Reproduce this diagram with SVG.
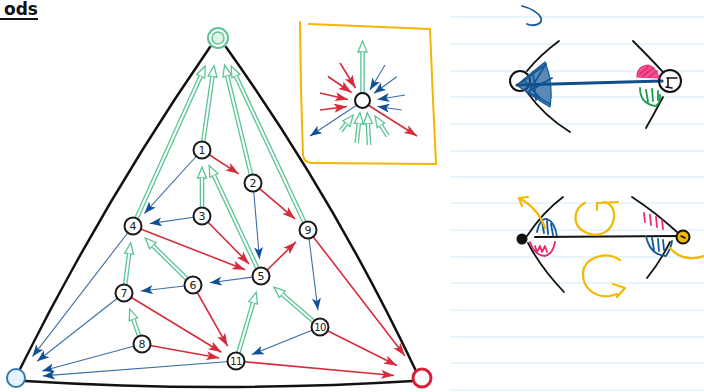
<svg xmlns="http://www.w3.org/2000/svg" width="704" height="392" viewBox="0 0 704 392">
<defs>
<style>
.er{stroke:#d62c3c;stroke-width:1.6;fill:none;marker-end:url(#hr)}
.eb{stroke:#3d6ea6;stroke-width:1.1;fill:none;marker-end:url(#hb)}
.go{stroke:#5cc593;stroke-width:4.6;fill:none;marker-end:url(#hg)}
.gi{stroke:#ffffff;stroke-width:2;fill:none}
.node circle{fill:#fff;stroke:#1a1a1a;stroke-width:2}
.node text{font-family:"DejaVu Sans",sans-serif;font-size:11px;fill:#222;text-anchor:middle}
.tri{fill:none;stroke:#111;stroke-width:2.5;stroke-linecap:round}
.nb{stroke:#d3e9f7;stroke-width:1.2}
.sk{fill:none;stroke-linecap:round;stroke-linejoin:round}
.k{stroke:#111;stroke-width:1.8}
.bl{stroke:#14589a;stroke-width:1.8}
.pk{stroke:#ec2a74;stroke-width:1.8}
.gr{stroke:#1f9a4b;stroke-width:1.8}
.or{stroke:#f5b800;stroke-width:2.2}
</style>
<marker id="hr" markerUnits="userSpaceOnUse" viewBox="0 0 14 10" markerWidth="14" markerHeight="10" refX="13" refY="4.5" orient="auto"><path d="M0,0 L13,4.5 L0,9 L3,4.5 Z" fill="#d62c3c"/></marker>
<marker id="hb" markerUnits="userSpaceOnUse" viewBox="0 0 14 10" markerWidth="14" markerHeight="10" refX="12" refY="4.5" orient="auto"><path d="M0,0 L12,4.5 L0,9 L3,4.5 Z" fill="#0e4f96"/></marker>
<marker id="hg" markerUnits="userSpaceOnUse" viewBox="0 0 16 12" markerWidth="16" markerHeight="12" refX="1" refY="5.5" orient="auto" overflow="visible"><path d="M1,1 L12,5.5 L1,10 Z" fill="#fff" stroke="#5cc593" stroke-width="1.3"/></marker>
</defs>
<rect x="0" y="0" width="704" height="392" fill="#fff"/>

<g id="notebook">
<line class="nb" x1="450" y1="17" x2="704" y2="17"/>
<line class="nb" x1="450" y1="44" x2="704" y2="44"/>
<line class="nb" x1="450" y1="71" x2="704" y2="71"/>
<line class="nb" x1="450" y1="97" x2="704" y2="97"/>
<line class="nb" x1="450" y1="124" x2="704" y2="124"/>
<line class="nb" x1="450" y1="151" x2="704" y2="151"/>
<line class="nb" x1="450" y1="177" x2="704" y2="177"/>
<line class="nb" x1="450" y1="203" x2="704" y2="203"/>
<line class="nb" x1="450" y1="230" x2="704" y2="230"/>
<line class="nb" x1="450" y1="257" x2="704" y2="257"/>
<line class="nb" x1="450" y1="283" x2="704" y2="283"/>
<line class="nb" x1="450" y1="310" x2="704" y2="310"/>
<line class="nb" x1="450" y1="337" x2="704" y2="337"/>
<line class="nb" x1="450" y1="363" x2="704" y2="363"/>
<line class="nb" x1="450" y1="390" x2="704" y2="390"/>
</g>

<g id="title">
<text x="4" y="15" font-family="DejaVu Sans, sans-serif" font-size="17" font-weight="bold" fill="#111">ods</text>
<line x1="0" y1="19" x2="38" y2="19" stroke="#111" stroke-width="2"/>
</g>

<g id="triangle">
<path class="tri" d="M210,47 Q103,202 19,371"/>
<path class="tri" d="M226,47 Q335,200 416,371"/>
<path class="tri" d="M25,381 Q219,393 413,381"/>
</g>

<g id="connectors">
<line class="er" x1="202" y1="150" x2="238.7" y2="173.8"/>
<line class="er" x1="253" y1="183" x2="295.1" y2="218.9"/>
<line class="er" x1="202" y1="216" x2="249.1" y2="263.9"/>
<line class="er" x1="133" y1="226" x2="245.2" y2="269.8"/>
<line class="er" x1="261" y1="276" x2="295.9" y2="241.9"/>
<line class="er" x1="193" y1="285" x2="227.6" y2="346.2"/>
<line class="er" x1="124" y1="293" x2="221.5" y2="352.2"/>
<line class="er" x1="142" y1="344" x2="219.3" y2="358"/>
<line class="er" x1="308" y1="230" x2="404.9" y2="355.8"/>
<line class="er" x1="320" y1="327" x2="396.9" y2="365.5"/>
<line class="er" x1="236" y1="361" x2="394.1" y2="375.5"/>

<line class="eb" x1="202" y1="150" x2="144.4" y2="213.4"/>
<line class="eb" x1="202" y1="216" x2="149.8" y2="223.6"/>
<line class="eb" x1="253" y1="183" x2="259.5" y2="259.1"/>
<line class="eb" x1="261" y1="276" x2="209.8" y2="282.8"/>
<line class="eb" x1="193" y1="285" x2="140.9" y2="291"/>
<line class="eb" x1="308" y1="230" x2="317.9" y2="310.1"/>
<line class="eb" x1="320" y1="327" x2="251.8" y2="354.6"/>
<line class="eb" x1="133" y1="226" x2="32.5" y2="356.6"/>
<line class="eb" x1="124" y1="293" x2="37.2" y2="361.3"/>
<line class="eb" x1="142" y1="344" x2="42.1" y2="371"/>
<line class="eb" x1="236" y1="361" x2="42.9" y2="375.9"/>

<line class="go" x1="133" y1="226" x2="200.7" y2="76.2"/><line class="gi" x1="133" y1="226" x2="200.7" y2="76.2"/>
<line class="go" x1="202" y1="150" x2="212.5" y2="76.6"/><line class="gi" x1="202" y1="150" x2="212.5" y2="76.6"/>
<line class="go" x1="253" y1="183" x2="227.2" y2="75.9"/><line class="gi" x1="253" y1="183" x2="227.2" y2="75.9"/>
<line class="go" x1="308" y1="230" x2="235.9" y2="76.1"/><line class="gi" x1="308" y1="230" x2="235.9" y2="76.1"/>
<line class="go" x1="202" y1="216" x2="202" y2="178"/><line class="gi" x1="202" y1="216" x2="202" y2="178"/>
<line class="go" x1="261" y1="276" x2="213.9" y2="175.4"/><line class="gi" x1="261" y1="276" x2="213.9" y2="175.4"/>
<line class="go" x1="193" y1="285" x2="152.9" y2="245.6"/><line class="gi" x1="193" y1="285" x2="152.9" y2="245.6"/>
<line class="go" x1="124" y1="293" x2="129.2" y2="253.7"/><line class="gi" x1="124" y1="293" x2="129.2" y2="253.7"/>
<line class="go" x1="142" y1="344" x2="133.4" y2="319.4"/><line class="gi" x1="142" y1="344" x2="133.4" y2="319.4"/>
<line class="go" x1="236" y1="361" x2="253.1" y2="302.8"/><line class="gi" x1="236" y1="361" x2="253.1" y2="302.8"/>
<line class="go" x1="320" y1="327" x2="282.2" y2="294.3"/><line class="gi" x1="320" y1="327" x2="282.2" y2="294.3"/>
</g>

<g id="corner-top">
<circle cx="218" cy="38" r="10" fill="#fff" stroke="#5cc593" stroke-width="2"/>
<circle cx="218" cy="38" r="6" fill="#dff4e7" stroke="#5cc593" stroke-width="1.5"/>
</g>
<g id="corner-left"><circle cx="16" cy="378" r="9" fill="#e8f3fb" stroke="#2f78b8" stroke-width="2"/></g>
<g id="corner-right"><circle cx="422" cy="378" r="9" fill="#fff" stroke="#d7213a" stroke-width="3"/></g>

<g id="node-1" class="node"><circle cx="202" cy="150" r="8.5"/><text x="202" y="154">1</text></g>
<g id="node-2" class="node"><circle cx="253" cy="183" r="8.5"/><text x="253" y="187">2</text></g>
<g id="node-3" class="node"><circle cx="202" cy="216" r="8.5"/><text x="202" y="220">3</text></g>
<g id="node-4" class="node"><circle cx="133" cy="226" r="8.5"/><text x="133" y="230">4</text></g>
<g id="node-5" class="node"><circle cx="261" cy="276" r="8.5"/><text x="261" y="280">5</text></g>
<g id="node-6" class="node"><circle cx="193" cy="285" r="8.5"/><text x="193" y="289">6</text></g>
<g id="node-7" class="node"><circle cx="124" cy="293" r="8.5"/><text x="124" y="297">7</text></g>
<g id="node-8" class="node"><circle cx="142" cy="344" r="8.5"/><text x="142" y="348">8</text></g>
<g id="node-9" class="node"><circle cx="308" cy="230" r="8.5"/><text x="308" y="234">9</text></g>
<g id="node-10" class="node"><circle cx="320" cy="327" r="8.5"/><text x="320" y="331" style="font-size:10px;letter-spacing:-0.5px">10</text></g>
<g id="node-11" class="node"><circle cx="236" cy="361" r="8.5"/><text x="236" y="365" style="font-size:10px;letter-spacing:-0.5px">11</text></g>

<g id="legend">
<path d="M309,24 L430,29 L433,100 L436,164 L312,163 Q304,163 303,155 L301,90 L300,22" fill="none" stroke="#f5b400" stroke-width="2" stroke-linejoin="round" stroke-linecap="round"/>
<line class="er" x1="340" y1="63" x2="355.5" y2="88"/>
<line class="er" x1="328" y1="76.5" x2="351.5" y2="92.5"/>
<line class="er" x1="320" y1="93" x2="348" y2="99.5"/>
<line class="er" x1="320" y1="110" x2="347" y2="106.5"/>
<line class="eb" x1="385" y1="65" x2="370" y2="90"/>
<line class="eb" x1="396.7" y1="76.7" x2="374" y2="93.3"/>
<line class="eb" x1="405" y1="95" x2="377.5" y2="99.5"/>
<line class="eb" x1="401.7" y1="110" x2="377.5" y2="106.5"/>
<line class="eb" x1="357" y1="105" x2="310" y2="136"/>
<line class="er" x1="368" y1="105" x2="417" y2="136"/>
<line class="go" x1="362.5" y1="93" x2="362.5" y2="52"/><line class="gi" x1="362.5" y1="93" x2="362.5" y2="52"/>
<line class="go" x1="340.7" y1="130.7" x2="346.4" y2="123.6"/><line class="gi" x1="340.7" y1="130.7" x2="346.4" y2="123.6"/>
<line class="go" x1="356.7" y1="143" x2="358.8" y2="123.6"/><line class="gi" x1="356.7" y1="143" x2="358.8" y2="123.6"/>
<line class="go" x1="369" y1="145" x2="367.9" y2="123.7"/><line class="gi" x1="369" y1="145" x2="367.9" y2="123.7"/>
<line class="go" x1="387.7" y1="136" x2="380.9" y2="125.3"/><line class="gi" x1="387.7" y1="136" x2="380.9" y2="125.3"/>
<circle cx="362.5" cy="100.5" r="7.5" fill="#fff" stroke="#111" stroke-width="2"/>
</g>

<g id="sketch-top" class="sk">
<path class="bl" d="M522,6 C530,8 538,12 541,18 C543,24 534,27 527,24" stroke-width="2"/>
<path class="k" d="M559,41 Q540,55 527,71"/>
<path class="k" d="M527,92 Q544,116 570,132"/>
<path class="k" d="M633,41 Q650,58 663,72"/>
<path class="k" d="M663,97 Q655,112 646,128"/>
<circle cx="520" cy="81" r="10" stroke="#111" stroke-width="2"/>
<path d="M518,84 L545,62 Q554,84 550,107 Q535,98 518,86 Z" fill="#14589a" fill-opacity="0.7" stroke="#14589a" stroke-width="1.2"/>
<path class="bl" d="M522,82 L546,64 L530,90 L552,78 L528,92 L550,104 M524,80 L540,98 M533,72 L536,100"/>
<path d="M517,85 L662,81" stroke="#0f4f8c" stroke-width="3.2"/>
<circle cx="670" cy="81" r="11" stroke="#111" stroke-width="2"/>
<path d="M667,78 L677,78 M668,78 L668,87 M666,87 L672,88" stroke="#111" stroke-width="1.6"/>
<path d="M637,77 Q637,66 648,65 Q656,67 659,78 Z" fill="#ec2a74" fill-opacity="0.8" stroke="#ec2a74" stroke-width="1.2"/>
<path class="pk" d="M640,74 L648,67 M643,76 L653,68 M649,77 L657,71"/>
<path class="gr" d="M640,88 Q640,104 656,106 Q661,102 660,95 M646,90 L648,102 M652,89 L653,101 M658,91 L658,100"/>
</g>

<g id="sketch-bottom" class="sk">
<path class="k" d="M563,197 Q543,212 527,236"/>
<path class="k" d="M528,243 Q541,268 564,292"/>
<circle cx="522" cy="239" r="5.5" fill="#111"/>
<path class="bl" d="M537,232 Q540,218 547,219 Q555,222 557,237 M542,222 L544,233 M547,221 L548,234 M551,224 L553,235"/>
<path class="pk" d="M530,242 Q535,256 545,256 Q553,254 555,242 M535,246 L537,252 L540,246 L542,252 L545,246 L547,252"/>
<path d="M535,237 L679,236" stroke="#111" stroke-width="2"/>
<path class="k" d="M632,197 Q655,212 677,232"/>
<path class="k" d="M670,242 Q660,262 647,278"/>
<path class="pk" d="M644,213 L645,222 M650,215 L651,225 M656,217 L657,227 M662,220 L663,229"/>
<path class="bl" d="M646,236 Q650,255 666,256 Q671,248 672,241 M652,238 L654,250 M658,239 L659,251 M663,240 L664,250"/>
<circle cx="683" cy="237" r="6.5" fill="#f5b800" stroke="#111" stroke-width="2"/>
<path d="M681,236 L685,238" stroke="#111" stroke-width="1.5"/>
<path class="or" d="M545,228 Q538,208 519,198 M528,197 L519,198 L522,206"/>
<path class="or" d="M585,203 C574,207 570,226 587,233 C599,238 612,232 614,218 C615,208 610,203 604,202 M597,210 L597,203 L618,202"/>
<path class="or" d="M620,260 C605,250 585,258 583,272 C582,288 595,298 610,296 L617,294 M613,284 L625,288 L617,297"/>
<path class="or" d="M670,248 Q683,263 704,256"/>
</g>
</svg>
